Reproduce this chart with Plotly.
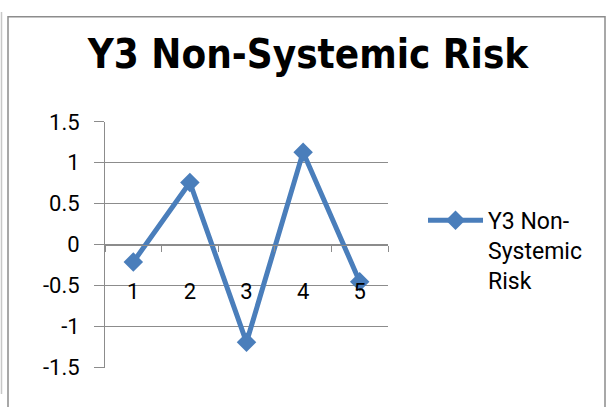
import plotly.graph_objects as go

# Series data
categories = ["1", "2", "3", "4", "5"]
risk_values = [-0.21, 0.76, -1.19, 1.13, -0.45]
series_name = "Y3 Non-<br>Systemic<br>Risk"
y_ticks = [-1.5, -1, -0.5, 0, 0.5, 1, 1.5]
y_tick_text = ["-1.5", "-1", "-0.5", "0", "0.5", "1", "1.5"]

W, H = 610, 407
px_x = lambda p: p / W
px_y = lambda p: 1 - p / H

BLUE = "#4A7EBB"
GRID = "#8C8C8C"

fig = go.Figure()
fig.add_trace(go.Scatter(
    x=categories, y=risk_values, name=series_name,
    mode="lines+markers",
    line=dict(color=BLUE, width=5),
    marker=dict(symbol="diamond", size=15, color=BLUE),
))

fig.update_layout(
    width=W, height=H,
    margin=dict(l=0, r=0, t=0, b=0),
    paper_bgcolor="white", plot_bgcolor="white",
    title=dict(text="<b>Y3 Non-Systemic Risk</b>", x=px_x(308), xanchor="center",
               y=px_y(54), yanchor="middle",
               font=dict(family="DejaVu Sans Condensed", size=40, color="black")),
    xaxis=dict(domain=[px_x(105), px_x(388)], anchor="free", position=0.5 * (px_y(379) + px_y(117)),
               type="category", range=[-0.5, 4.5], tickson="boundaries",
               ticks="outside", ticklen=6, tickcolor=GRID, showline=True, linecolor=GRID, linewidth=1,
               showgrid=False, zeroline=False, ticklabelstandoff=27,
               tickfont=dict(family="Roboto", size=22, color="black")),
    yaxis=dict(domain=[px_y(379), px_y(117)], range=[-1.5, 1.5], tickvals=y_ticks, ticktext=y_tick_text,
               showgrid=True, gridcolor=GRID, gridwidth=1, zeroline=False,
               showline=True, linecolor=GRID, linewidth=1,
               ticks="outside", ticklen=10, tickcolor=GRID, ticklabelstandoff=10,
               tickfont=dict(family="Roboto", size=22, color="black")),
    legend=dict(x=px_x(423), y=px_y(199), xanchor="left", yanchor="top", valign="top",
                itemwidth=55,
                font=dict(family="Roboto", size=23, color="black"),
                bgcolor="rgba(0,0,0,0)", tracegroupgap=0),
    showlegend=True,
)

# Chart frame
fig.add_shape(type="rect", xref="paper", yref="paper",
              x0=px_x(8), x1=px_x(605), y0=-0.05, y1=px_y(5),
              line=dict(color="#8C8C8C", width=1.5), layer="below")
fig.add_shape(type="line", xref="paper", yref="paper",
              x0=px_x(1.5), x1=px_x(1.5), y0=0, y1=1,
              line=dict(color="#C8C8C8", width=1.5), layer="below")

fig.write_html("out.html")
